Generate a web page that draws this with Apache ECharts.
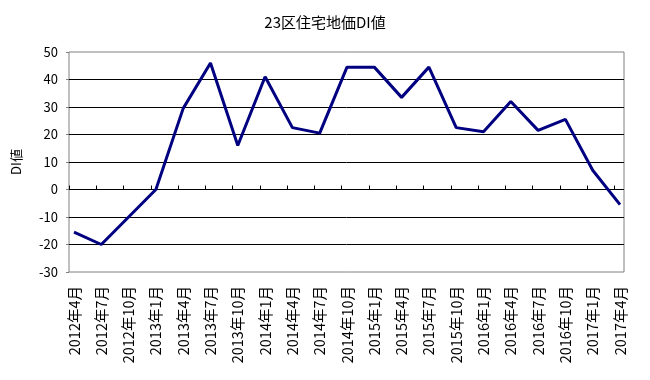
<!DOCTYPE html>
<html>
<head>
<meta charset="utf-8">
<script src="https://cdn.jsdelivr.net/npm/echarts@6/dist/echarts.min.js"></script>
<style>html,body{margin:0;padding:0;background:#fff}#c{width:650px;height:380px}</style>
</head>
<body>
<div id="c"></div>
<script>
var categories = ['2012年4月','2012年7月','2012年10月','2013年1月','2013年4月','2013年7月','2013年10月','2014年1月','2014年4月','2014年7月','2014年10月','2015年1月','2015年4月','2015年7月','2015年10月','2016年1月','2016年4月','2016年7月','2016年10月','2017年1月','2017年4月'];
var diValues = [-15.5, -20, -10, 0, 29.5, 46, 16, 41, 22.5, 20.5, 44.5, 44.5, 33.5, 44.5, 22.5, 21, 32, 21.5, 25.5, 7, -5.5];
var yTicks = [-30, -20, -10, 0, 10, 20, 30, 40, 50];
var titleText = '23区住宅地価DI値';
var yName = 'DI値';

var FONT = '"Noto Sans CJK JP", sans-serif';
var yMin = yTicks[0], yMax = yTicks[yTicks.length - 1], yStep = yTicks[1] - yTicks[0];
var tickCats = categories.slice(0, categories.length - 1);

var chart = echarts.init(document.getElementById('c'), null, {renderer: 'canvas'});
chart.setOption({
  backgroundColor: '#ffffff',
  animation: false,
  title: {
    text: titleText, left: 'center', top: 10,
    textStyle: {fontFamily: FONT, fontSize: 15, fontWeight: 'normal', color: '#000'}
  },
  grid: [
    {left: 69, right: 26, top: 52, height: 220, show: true, borderColor: '#808080', borderWidth: 1, backgroundColor: 'transparent'},
    {left: 69, width: 545.5, top: 52, height: 220},
    {left: 74, width: 546, top: 52, height: 220}
  ],
  xAxis: [
    {gridIndex: 0, type: 'category', data: categories, show: false},
    {gridIndex: 1, type: 'category', data: tickCats, boundaryGap: true,
     axisLine: {show: true, onZero: true, lineStyle: {color: '#000', width: 1}},
     axisTick: {show: true, inside: true, interval: 0, length: 4, lineStyle: {color: '#000'}},
     axisLabel: {show: false, interval: 0}},
    {gridIndex: 2, type: 'category', data: categories, boundaryGap: false,
     axisLine: {show: false, onZero: false}, axisTick: {show: false},
     axisLabel: {show: true, rotate: 90, interval: 0, margin: 14, fontFamily: FONT, fontSize: 14.5, color: '#000'}}
  ],
  yAxis: [
    {gridIndex: 0, type: 'value', min: yMin, max: yMax, interval: yStep,
     name: yName, nameLocation: 'middle', nameRotate: 90, nameGap: 46,
     nameTextStyle: {fontFamily: FONT, fontSize: 13, color: '#000'},
     axisLine: {show: false},
     axisTick: {show: true, length: 3, lineStyle: {color: '#808080'}},
     axisLabel: {margin: 11, fontFamily: FONT, fontSize: 13, color: '#000'},
     splitLine: {show: true, showMinLine: false, showMaxLine: false, lineStyle: {color: '#000', width: 1}}},
    {gridIndex: 1, type: 'value', min: yMin, max: yMax, interval: yStep, show: false, splitLine: {show: false}},
    {gridIndex: 2, type: 'value', min: yMin, max: yMax, interval: yStep, show: false, splitLine: {show: false}}
  ],
  series: [{
    type: 'line', xAxisIndex: 2, yAxisIndex: 2, data: diValues,
    symbol: 'none', lineStyle: {color: '#000080', width: 3}, itemStyle: {color: '#000080'}
  }]
});
</script>
</body>
</html>
